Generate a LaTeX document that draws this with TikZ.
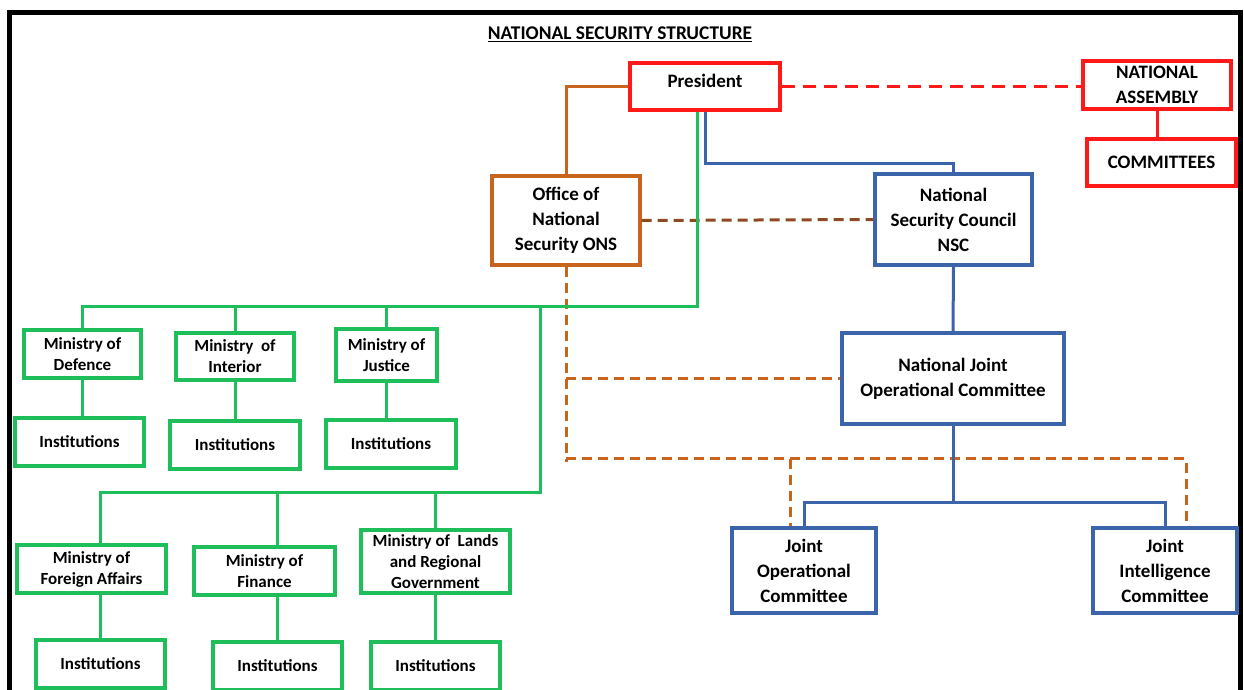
\documentclass[tikz,border=0pt]{standalone}
\usepackage{fontspec}
\setmainfont{Carlito}
\usetikzlibrary{calc}
\definecolor{nsred}{HTML}{FF1A1A}
\definecolor{nsorange}{HTML}{C8641E}
\definecolor{nsbrown}{HTML}{8C4A1E}
\definecolor{nsblue}{HTML}{3C64AA}
\definecolor{nsgreen}{HTML}{1EBE5A}
\tikzset{%
box/.style={draw=#1, line width=3.2pt, inner sep=0pt, align=center,
  font=\bfseries\fontsize{19}{25}\selectfont},
minbox/.style={box=nsgreen, font=\bfseries\fontsize{17}{21}\selectfont},
link/.style={draw=#1, line width=3pt},
dlink/.style={draw=#1, line width=3pt, dash pattern=on 10pt off 6pt},
}

\begin{document}
\begin{tikzpicture}[x=1pt,y=-1pt]
 \useasboundingbox (0,0) rectangle (1244,690);
 \clip (0,0) rectangle (1244,690);
 \draw[line width=5pt] (9,13) rectangle (1240,720);
 \node[font=\bfseries\fontsize{19.4}{25}\selectfont] (title) at (620,34) {\underline{NATIONAL SECURITY STRUCTURE}};
 % top level
 \node[box=nsred, minimum width=150, minimum height=47, text depth=12pt] (pres) at (705,86.5) {President};
 \node[box=nsred, minimum width=148, minimum height=48] (na) at (1157,85) {NATIONAL\\ASSEMBLY};
 \node[box=nsred, minimum width=149, minimum height=47] (comm) at (1161.5,162.5) {COMMITTEES};
 \node[box=nsorange, minimum width=148, minimum height=89] (ons) at (566,220.5) {Office of\\National\\Security ONS};
 \node[box=nsblue, minimum width=157, minimum height=91] (nsc) at (953.5,219.5) {National\\Security Council\\NSC};
 \node[box=nsblue, minimum width=222, minimum height=91] (njoc) at (953,378.5) {National Joint\\Operational Committee};
 \node[box=nsblue, minimum width=144, minimum height=85] (joc) at (804,570.5) {Joint\\Operational\\Committee};
 \node[box=nsblue, minimum width=144, minimum height=85] (jic) at (1165,570.5) {Joint\\Intelligence\\Committee};
 % ministries
 \node[minbox, minimum width=117, minimum height=48] (mdef) at (82.5,354) {Ministry of\\Defence};
 \node[minbox, minimum width=118, minimum height=47] (mint) at (235,356.5) {Ministry~ of\\Interior};
 \node[minbox, minimum width=101, minimum height=52] (mjus) at (386.5,355) {Ministry of\\Justice};
 \node[minbox, minimum width=129, minimum height=48] (idef) at (79.5,442) {Institutions};
 \node[minbox, minimum width=130, minimum height=48] (iint) at (235,445) {Institutions};
 \node[minbox, minimum width=130, minimum height=48] (ijus) at (391,444) {Institutions};
 \node[minbox, minimum width=149, minimum height=48] (mfor) at (91.5,569) {Ministry of\\Foreign Affairs};
 \node[minbox, minimum width=141, minimum height=48] (mfin) at (264.5,571) {Ministry of\\Finance};
 \node[minbox, minimum width=149, minimum height=63] (mlan) at (435.5,561.5) {Ministry of~ Lands\\and Regional\\Government};
 \node[minbox, minimum width=129, minimum height=48] (ifor) at (100.5,664) {Institutions};
 \node[minbox, minimum width=129, minimum height=48] (ifin) at (277.5,666) {Institutions};
 \node[minbox, minimum width=129, minimum height=48] (ilan) at (435.5,666) {Institutions};
 % red links
 \draw[dlink=nsred, dash pattern=on 13pt off 8pt] (pres.east) -- (pres.east -| na.west);
 \draw[link=nsred] (na.south) -- (na.south |- comm.north);
 % orange and brown links
 \draw[link=nsorange] (ons.north) |- (pres.west);
 \draw[dlink=nsbrown] (ons.east) -- (nsc.west);
 \draw[dlink=nsorange] (ons.south) -- ++(0,195);
 \draw[dlink=nsorange] (ons.south |- njoc.west) -- (njoc.west);
 \coordinate (obus) at ($(ons.south)+(0,192)$);
 \draw[dlink=nsorange] (obus) -| ($(jic.north)+(21,0)$);
 \draw[dlink=nsorange] ($(obus -| joc.north)+(-14,0)$) -- ($(joc.north)+(-14,0)$);
 % blue links
 \draw[link=nsblue] (pres.south) -- ++(0,52) -| (nsc.north);
 \draw[link=nsblue] (nsc.south) -- (njoc.north);
 \draw[link=nsblue] (njoc.south) -- ++(0,77) coordinate (bsplit);
 \draw[link=nsblue] (joc.north) |- (bsplit) -| (jic.north);
 % green links
 \coordinate (gbus) at (697,306);
 \coordinate (gbus2) at (540,492);
 \draw[link=nsgreen] (pres.south -| gbus) |- (mdef.north |- gbus) -- (mdef.north);
 \foreach \m in {mint,mjus}
   \draw[link=nsgreen] (\m.north |- gbus) -- (\m.north);
 \draw[link=nsgreen] (gbus2 |- gbus) |- (ifor.north |- gbus2) -- (ifor.north |- mfor.north);
 \draw[link=nsgreen] (ifin.north |- gbus2) -- (ifin.north |- mfin.north);
 \draw[link=nsgreen] (mlan.north |- gbus2) -- (mlan.north);
 \draw[link=nsgreen] (mdef.south) -- (mdef.south |- idef.north);
 \draw[link=nsgreen] (mint.south) -- (iint.north);
 \draw[link=nsgreen] (mjus.south) -- (mjus.south |- ijus.north);
 \draw[link=nsgreen] (ifor.north |- mfor.south) -- (ifor.north);
 \draw[link=nsgreen] (ifin.north |- mfin.south) -- (ifin.north);
 \draw[link=nsgreen] (mlan.south) -- (ilan.north);
\end{tikzpicture}
\end{document}
